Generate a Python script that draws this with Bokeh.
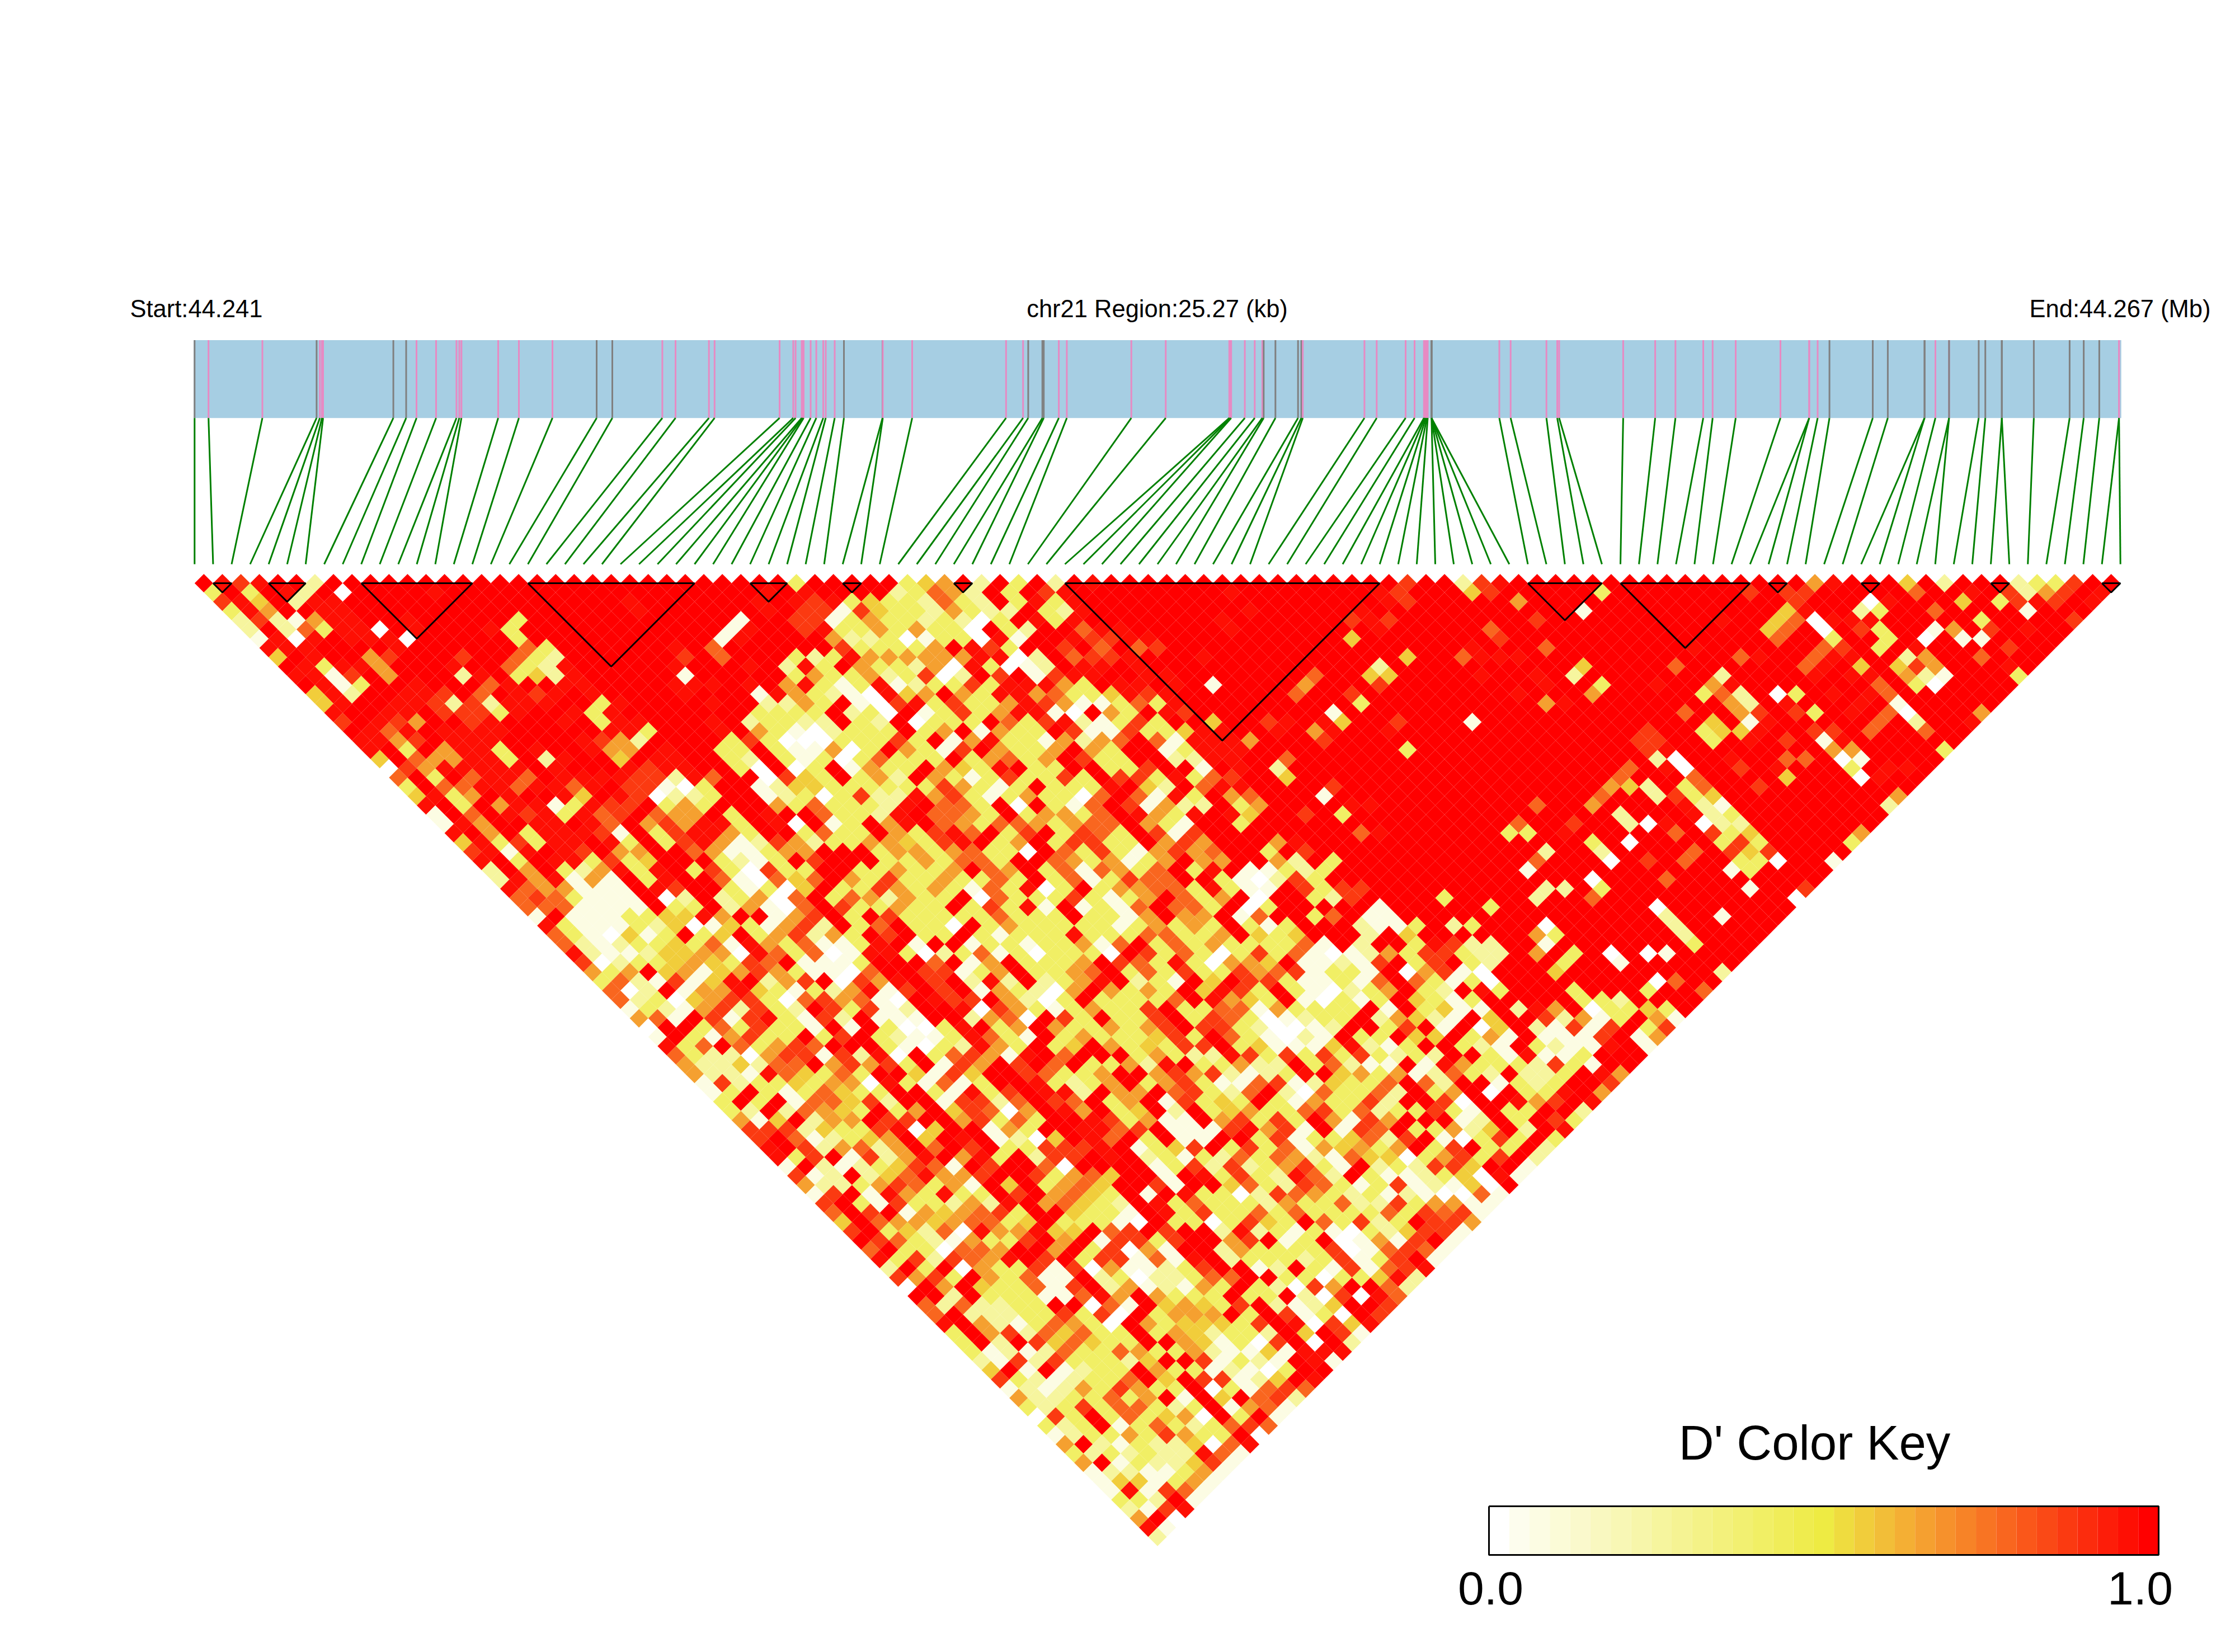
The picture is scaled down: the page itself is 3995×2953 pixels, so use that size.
from bokeh.plotting import figure
from bokeh.models import ColumnDataSource, Range1d, LinearColorMapper
from bokeh.embed import file_html
from bokeh.resources import INLINE
from bokeh.core.properties import value

# Gene-map position (px along the bar) of each SNP
snp_pos = [347.3,372.2,468.5,565.4,571.2,575,577,702.6,725.5,744,779,815.4,820.5,824.3,890,927,987,1066,1094,1183.4,
 1207,1266.7,1276.8,1393,1417.4,1421.6,1432.5,1434.2,1436,1448.5,1458.6,1471,1475.5,1491.5,1508,1577,1577.5,1630,1797.8,1828.2,
 1837.4,1862.7,1865.2,1892.1,1906.4,2021.7,2083.2,2196.8,2198.5,2200.2,2224.6,2242.3,2255.8,2258.3,2279.3,2319.7,2325.6,2328.2,2438.4,2460.3,
 2512,2528,2544.8,2546.5,2548.2,2549.9,2551.5,2558.3,2558.3,2558.3,2558.3,2558.3,2679.5,2699.7,2763.7,2783,2786.4,2900.9,2958.1,2994.3,
 3044,3060.8,3102,3182,3233.4,3233.4,3248.5,3269.6,3347,3373.9,3439.6,3439.6,3459,3483.4,3483.4,3536.4,3548.2,3577.7,3577.7,3634.9,
 3698.9,3724.1,3751.9,3787.2,3787.2]
# 1 = pink marker, 0 = grey marker
snp_pink = "0110111001" "1111111001" "1111111111" "1111001111" "0001111111" "1110000111" "1111111000" "0011111111" "1111111000" "0011000000" "00011"
# LD blocks as (first SNP, last SNP)
blocks = [(1,2),(4,6),(9,15),(18,27),(30,32),(35,36),(41,42),(47,64),(72,76),(77,84),(85,86),(90,91),(97,98),(103,104)]
key_labels = ["0.0", "1.0"]
texts_top = ["Start:44.241", "chr21 Region:25.27 (kb)", "End:44.267 (Mb)"]
# D' class of each pair (0 white ... 9 red), one row per SNP distance; red where a row stops
ld_rows = [
"9878992999 9999999999 9999999999 9939999934 5929392989 9999999999 9999979927 8999999999 9999999589 9949299923 3799",
"3939829099 9989999999 9999999999 8989999236 5293978999 9999989999 9998799947 9999939999 9997977999 9969989725 798",
"7849288999 9999999999 9989999998 9878343326 3293838999 9999999999 9998799999 5999999999 9999979990 8999493787 98",
"3859988999 9999999999 9989999998 9771743325 3229328",
"2721588998 9999939999 9999999199 7713533232 0398389",
"2926388098 9998399999 9999991899 7833535330 93299688",
"1808988809 9999399999 9999918999 9522301330 8199877 88",
"8889999899 9999639999 9989699999 9733335987 3997969 67",
"4989957999 7996329999 9979699932 3855555588 0296778",
"9838859998 9963289999 9899989283 9533250830 1298898",
"8817959992 8934289999 9199999353 3523702979 17889988",
"9813998999 6899889999 8889895831 3812337388 85398898",
"4829988796 9878989999 8999185321 0845953885 6334878",
"4899887272 8889938999 9899225391 0783733587 5113638 9",
"8998897773 8998389999 9993333923 0913735881 0953987",
"7987599789 9989388999 8923322932 9033396378 2137399 4",
"9868988889 9999883999 8953102333 9359153397 1173348 8",
"8857988899 9987529999 3730003337 3915833152 5696188 85",
"8939588398 9985598993 3931150395 3179533595 39913888",
"4965588392 8994988993 2931303633 3935635973 3992288996",
"0758888898 9998788993 0903915339 5438933993 3799198 92",
"6939688698 8887728699 0743935295 3137337397 7383679 94",
"3966886886 8977103991 2443333337 5313933389 4296889 9997",
"4835989984 9870223991 2303722857 3135330696 1839569991",
"8939588138 7793539995 3633328966 3909316971 5229359 99998",
"1969878386 7965593989 9633289665 3935536985 3898499793",
"1859988986 9575883980 9139589653 6653566953 1993 9",
"8959388871 9378853993 6339537869 3793763971 7999999996 8",
"4837388983 9378512752 3355437893 5937733957 5999 58",
"7818987955 9965113559 9935535633 0963731575 6993 97",
"8939883734 9993213979 9933536639 9653513595 5995 293",
"2959325838 9373073399 3353359659 3616536938 9113 23",
"2858151938 9961064695 3733533639 3613766993 1027 3",
"8655111987 9931304933 7535 3 1 6 3 8 0 3 9 3 5 5 6 6 3 8 3 1 1 9 7 3 7 7",
"6763111902 9235069365 2533906333 7313596359 0993279999 3",
"6661111933 9251069733 5339373819 1316966390 399999 1",
"1911133448 5991 5 7 9 3 9 7 3 3 3 3 3 6 3 3 3 9 3 3 1 5 9 5 5 9 1 6 9 9 3 6 9 1 1 9",
"8311132401 4315729369 3309353333 3135353931 3999211392 3",
"6310413934 9357253979 3393133383 3366335943 4999294",
"6212334361 8536113891 9913313351 6936353333 6192993872",
"8211244550 8636018830 2361303330 9736303736 1012537 73",
"7023345437 6911139996 9159333597 6383055491 12179 379 3",
"5359451457 5311069977 1359335693 6373375671 3319057 10",
"3621714892 5790758979 2829235892 3194977311 3169631 3",
"6029155843 1325817979 1532059535 3948739310 2359329 8",
"6230457730 6756109877 9520393333 6985439103 1394313",
"1321572732 9737129980 7531353379 3366153333 9193411928 5953343 9",
"5619717831 7291119925 6097393379 3763012339 2542194 9 97 2513951",
"0993637331 9193003893 5953353579 7732001299 3791904 9 2 1 7 1 7 9 3 5",
"1931573393 7932113863 1935333473 9631021933 9449351911 1791 5",
"8369635769 9931032853 9349534377 9341114821 3993219321 1891",
"6322057717 2809367518 9899925332 3797367345 3398325327 2932979 7 1 7 9 9",
]
ld_rows[50] = "8369635769 9931032853 9349534377 9341114821 3993219321 1891"
ld_rows[49] = "1931573393 7932113863 1935333473 9631021933 9449351911 17915"
ld_rows[51] = "6322057717 2809367518 9699935322 8737373732 3299 31811 3999"
ld_rows_tail = [
"5224266957 5739175979 6933528 9 3 3 5 2 2 9 3 6 2 1 1 9 1 8 5 3 3 3 2 7 3 1 9 9 3 2 9 1 9 9 9 9",
"5221864 3 6 3 9 9 4 1 7 4 9 9 7 6 3 3 5 9 9 5 7 5 7 2 1 2 3 8 9 4 5 3 5 1 2 6 3 2 9 2 2 3 9 8 5 8",
"1723 3 4 3 5 5 0 8 3 1 6 1 3 9 9 8 3 2 3 5 9 3 5 7 3 1 1 6 7 1 2 4 3 3 6 9 6 2 9 9 1 3 2 3 9 9 7",
"1 3 9 3 1 3 6 4 3 3 9 9 3 1 8 3 7 9 8 8 2 9 5 5 9 6 7 3 2 6 9 2 0 6 3 3 6 2 9 3 5 9 0 9 3 3 8 9 5",
"3 9 3 9 1 6 6 4 7 2 9 9 1 7 7 2 6 9 7 6 9 3 5 9 1 7 3 4 3 9 3 1 5 3 3 7 2 9 9 7 0 9 9 8 5 7 9 8",
"3 2 9 2 6 5 4 3 9 3 5 9 4 7 6 0 5 9 8 5 9 3 4 9 2 9 3 4 5 3 3 6 7 3 6 2 3 3 7 3 1 9 3 3 9 9 2",
"5 1 4 9 2 5 5 9 7 7 9 9 5 7 3 6 3 9 9 8 7 3 5 1 1 9 5 7 3 7 3 9 5 1 7 5 9 9 9 1 2 9 3 9 7 3",
"7 7 7 2 4 3 3 7 8 0 4 9 9 1 5 3 9 9 8 8 6 7 9 1 1 1 7 8 5 7 1 9 1 7 6 9 3 3 5 2 4 9 2 9 8",
"7 9 6 1 2 3 4 5 9 4 9 8 9 1 2 0 4 9 8 6 9 3 9 1 1 9 9 3 7 1 3 3 4 6 2 7 9 1 0 3 7 3 9 3",
"8 9 7 2 5 6 2 5 9 6 9 7 9 3 3 7 7 7 8 9 1 3 4 7 9 3 7 3 6 1 5 4 5 3 5 9 3 7 9 3 3 9 2",
"8 3 7 9 1 7 2 5 8 9 5 8 3 9 2 7 7 9 8 9 2 3 1 3 2 6 3 6 5 2 1 6 4 4 0 3 5 7 3 7 9 2",
"1 9 2 1 2 3 4 7 6 1 9 7 9 9 6 0 9 9 9 9 1 3 7 2 7 2 3 5 7 3 1 9 2 3 2 7 7 4 9 9 1",
"7 1 2 9 2 4 6 8 5 5 7 9 9 7 3 5 6 4 9 9 1 9 8 3 7 3 2 8 6 2 9 3 1 1 2 3 4 0 8 1",
"5 2 2 3 5 7 6 3 5 1 9 4 9 3 5 6 4 9 9 7 1 9 9 4 6 3 2 7 6 3 1 3 7 1 2 1 4 0 9 4",
"1 7 9 1 8 5 3 8 3 3 9 7 9 5 6 4 3 9 1 9 8 3 3 0 2 7 6 5 3 2 3 1 2 1 0 0 6 1",
"7 9 3 1 7 3 3 2 5 2 8 9 5 6 4 3 2 9 8 3 6 3 3 3 2 5 3 3 6 2 2 7 3 5 5 1 1 1"[:-2],
"6 9 7 9 1 5 4 5 6 7 3 9 9 4 3 3 1 9 8 3 7 3 3 6 3 6 3 3 3 3 6 3 7 6 7 1",
"4 9 6 5 5 4 5 6 6 3 4 9 3 3 3 1 0 9 3 3 0 3 7 4 3 9 6 3 7 2 3 9 7 7 5",
"7 9 3 4 2 6 0 8 5 5 8 4 4 9 6 7 9 7 9 9 2 8 2 3 1 3 1 0 3 2 4 7 7 1",
"9 7 6 3 2 1 5 3 3 7 9 5 9 1 7 7 3 7 9 9 5 7 9 1 3 9 0 1 5 1 7 9 1",
"6 9 3 3 0 6 6 5 9 9 5 9 3 7 0 5 1 9 9 2 5 3 3 3 3 7 0 1 6 7 6 1",
"8 3 7 2 7 6 5 8 9 7 9 3 7 7 1 6 1 8 9 2 3 3 3 2 3 7 1 3 7 9 1",
"2 9 3 9 0 5 3 3 7 1 7 0 5 1 1 2 3 7 9 9 1 2 9 3 1 7 1 6 7 8",
"7 5 7 3 9 5 3 6 1 1 9 2 3 0 2 2 3 6 6 9 9 3 3 0 3 3 4 8 2 6",
"0 9 5 9 4 3 3 6 1 7 9 2 5 1 2 1 5 3 9 3 2 0 7 5 9 9 6 2",
"9 9 2 9 3 3 3 1 1 6 8 5 9 5 3 3 3 9 3 3 9 2 0 7 0 8 6",
"6 2 6 2 2 3 3 9 9 0 6 1 9 4 5 4 3 7 9 2 1 2 4 9 9 7",
"6 9 2 2 2 3 3 7 3 7 0 9 3 5 5 5 9 3 9 7 1 3 0 9 7",
"8 9 5 2 1 3 6 5 3 0 9 5 3 4 4 4 3 7 9 8 0 7 4 8",
"3 9 5 7 2 6 4 6 3 3 9 3 5 4 2 3 3 2 9 4 9 7 1",
"3 9 2 9 7 4 6 4 3 3 9 9 5 4 1 3 0 7 9 0 9 2",
"3 1 2 1 2 6 3 3 6 5 3 3 5 2 1 1 4 1 8 8 8",
"2 1 7 2 7 3 3 3 2 4 9 9 7 1 3 2 1 9 8 1",
"4 9 1 9 1 2 3 3 9 5 3 3 1 2 1 0 3 9 9",
"7 3 2 1 2 3 3 6 9 4 9 7 7 1 2 4 9 8",
"1 2 1 2 5 3 7 5 3 3 9 0 3 1 6 7 6",
"5 2 2 3 3 6 3 5 9 1 9 4 9 6 7 2",
"3 2 3 7 3 6 6 3 2 3 9 1 5 6 1",
"0 7 3 9 3 6 3 4 5 0 9 3 9 1",
"3 2 3 9 1 3 6 3 2 3 6 7 6",
"1 2 3 3 5 3 7 5 3 3 9 0",
"1 3 5 9 3 6 3 4 5 2 1"[:0] + "5 2 2 3 3 6 3 3 2 6 7"[:0] + "5 9 2 1 3 2 2 4 0 6 8",
"3 2 3 2 3 2 2 8 6 1",
"5 9 1 3 2 2 4 7 1",
"1 2 2 1 1 3 5 1",
"1 4 4 1 3 5 1",
"1 8 1 7 6 1",
"3 3 2 9 1",
"2 1 7 8",
"5 9 0",
"8 1",
"2",
]
# isolated cells in the mostly red right-hand part: (row, position, class)
spots = [(3,55,8),(3,61,8),(4,53,8),(4,60,7),(4,61,8),(4,62,7),(5,53,8),(5,61,8),(6,59,4),(7,65,8),(8,50,8),(8,61,4),(8,64,6),(9,59,2),(10,58,4),(10,59,4),(10,55,6),(10,64,8),
(11,49,1),(11,54,5),(11,58,7),(12,53,6),(12,56,7),(13,56,3),(14,54,1),(15,50,7),(15,51,8),(15,53,8),(15,54,4),(15,57,7),(15,61,1),(16,50,8),(16,52,5),(16,53,8),(16,56,8),(17,48,5),(17,52,7),(18,56,3),(19,49,6),(20,48,2),(21,48,4),(22,50,7),(23,49,1),(24,50,8),(25,49,3),(25,47,7),(34,50,3),
(3,73,1),(4,70,7),(5,67,6),(6,67,7),(7,69,6),(9,70,4),(10,69,2),(11,70,3),(12,69,5),(13,66,5),(13,67,8),(8,67,8),(8,66,8),(8,65,8),(10,67,8),(11,67,8),(12,65,8),(7,77,8),(8,79,6),(8,80,8),(4,80,8),
(9,75,6),(11,73,8),(14,73,6),(10,77,2),(11,76,5),(11,77,8),(12,75,3),(12,76,6),(12,77,2),(13,76,5),(13,77,2),(14,76,5),(14,77,7),(15,76,1),(16,75,4),(15,77,8),(16,76,8),(15,74,4),(16,73,3),(16,74,4),(17,73,3),(17,75,8),(17,77,7),(19,73,8),(20,73,7),
(19,76,6),(19,77,6),(20,75,8),(21,75,4),(22,73,7),(12,79,0),(12,80,3),(13,79,8),(14,79,7),(14,80,3),(16,79,7),(17,79,1),(16,80,7),(17,80,8),(18,79,5),(18,80,5),(19,79,0),(19,80,1),(20,79,3),(21,79,0),(21,80,8),(20,81,8),(20,82,8),
(4,85,0),(5,85,0),(6,85,3),(7,85,7),(8,85,8),(5,82,4),(4,83,4),(3,84,4),(6,82,6),(5,83,6),(4,84,6),(3,85,8),(8,83,6),(7,84,6),(9,82,6),(10,82,8),(9,83,8),(8,84,8),(12,82,8),(10,84,8),(9,85,4),(10,85,8),(11,85,6),(12,85,6),(14,82,8),(13,83,8),(12,84,8),
(16,82,6),(15,83,6),(14,84,6),(13,85,1),(14,85,0),(15,85,2),(16,85,6),(6,88,3),(5,88,3),(7,87,3),(4,86,8),(5,87,7),(4,87,8),(4,88,8),(2,89,0),(3,88,2),(3,89,3),(3,92,6),(5,91,1),(6,90,0),(7,89,8),(8,88,2),(8,89,5),(9,87,4),(9,88,7),(9,89,5),(10,87,5),(10,88,2),(10,89,1),(11,87,3),(11,88,0),
(5,92,5),(6,92,1),(4,94,3),(6,93,1),(5,94,7),(3,97,1),(5,96,8),(7,94,7),(8,92,6),(4,99,7),(10,93,3),(9,93,8),(18,85,3),(14,89,5),(15,88,8),(23,80,5),(24,79,2),(27,76,5),(28,75,3),(30,73,1),(34,69,0),(33,70,7),(42,61,2),(44,59,6),(47,56,1),(48,55,7),
(19,70,0),(20,70,0),(18,70,8),(19,69,2),(17,69,7),(17,70,7),(16,70,7),(18,69,7),(20,69,8),(21,70,6),(22,69,3),(22,70,6),(23,68,7),(23,69,3),(23,70,4),(24,68,8),(24,69,2),(24,70,1),(25,68,8),(25,69,2),(25,70,3),(26,68,0),(26,69,2),(26,70,2),(27,68,7),(27,69,3),(27,70,4),(28,68,3),(28,69,7),(28,70,3),(29,68,7),(29,69,4),(29,70,7),(30,68,3),(30,69,3),(30,70,0),(31,67,1),(31,68,3),
(22,67,2),(23,67,2),(22,66,4),(22,65,5),(20,67,6),(21,66,6),(23,64,6),(24,63,5),(25,64,2),(26,64,2),(26,65,0),(26,66,8),(27,66,6),(28,63,0),(26,61,7),(27,60,8),(28,61,3),(29,61,2),(30,61,0),(29,58,2),(30,57,6),(31,56,1),(27,57,3),(26,58,6),(27,58,3),(24,60,6),
(29,66,6),(30,65,6),(30,63,7),(32,63,6),(33,56,2),(33,57,2),(34,55,2),(35,52,3),(32,59,0),(33,59,3),(34,58,6),(33,67,1),(36,64,1),(35,61,0),(36,61,2),(37,61,2),(38,61,2),(39,61,3),
(37,54,0),(38,53,5),(38,54,3),(39,53,1),(40,52,5),(40,54,3),(41,53,3),(42,52,4),(40,49,2),(40,50,2),(39,50,2),(41,49,2),(43,48,0),(44,48,3),(40,56,0),(41,56,1),(40,58,0),(40,59,1),(43,57,0),(44,56,3),(46,52,0),(44,52,3),(46,53,3),(45,54,2),(45,52,3),(45,53,3),(43,58,6)]
D_CLASS = [0.0, 0.09, 0.25, 0.40, 0.55, 0.64, 0.76, 0.85, 0.94, 1.0]
SNP_COUNT = len(snp_pos)
all_rows = [r.replace(" ", "") for r in ld_rows[:52] + ld_rows_tail]

# layout in page pixels
W, H = 3979, 2937
X0, DX, Y_D = 347.3, 33.1, 1042.0
BAR_T, BAR_B, TICK_B = 607.5, 746.7, 1008.0

def ramp(a, b, n):
    return [tuple(a[i] + (b[i]-a[i]) * t / n for i in range(3)) for t in range(n)]
cols = ramp((255,255,255),(255,255,238),1) + ramp((253,253,238),(238,235,67),15) + ramp((238,235,67),(245,160,48),5) + ramp((245,160,48),(255,0,0),11) + [(255,0,0)]
palette = ["#%02x%02x%02x" % tuple(int(round(v)) for v in c) for c in cols]
mapper = LinearColorMapper(palette=palette, low=0, high=1)

p = figure(width=W, height=H, x_range=Range1d(0, W), y_range=Range1d(H, 0),
           output_backend="svg", toolbar_location=None, min_border=0, outline_line_color=None)
p.xaxis.visible = False
p.yaxis.visible = False
p.grid.visible = False

cells = {}
for r in range(SNP_COUNT - 1):
    need = SNP_COUNT - 1 - r
    s = all_rows[r] if r < len(all_rows) else ""
    s = (s + "9" * need)[:need]
    cells[r] = [int(c) for c in s]
for r, k, d in spots:
    if r < len(cells) and k < len(cells[r]):
        cells[r][k] = d

xs, ys, vals = [], [], []
h = DX / 2
for r, row in cells.items():
    for k, d in enumerate(row):
        cx = X0 + DX * (k + (r + 1) / 2)
        cy = Y_D + h * r
        xs.append([cx - h, cx, cx + h, cx])
        ys.append([cy, cy - h, cy, cy + h])
        vals.append(D_CLASS[d])
p.patches("xs", "ys", source=ColumnDataSource(dict(xs=xs, ys=ys, v=vals)),
          fill_color={"field": "v", "transform": mapper}, line_color=None)

for a, b in blocks:
    xa, xb = X0 + DX * a, X0 + DX * b
    p.line([xa, xb, (xa + xb) / 2, xa], [Y_D, Y_D, Y_D + (xb - xa) / 2, Y_D], line_color="black", line_width=3)

p.quad(left=[X0 - 1.5], right=[X0 + DX * (SNP_COUNT - 1) + 1.5], top=[BAR_T], bottom=[BAR_B], fill_color="#a6cee3", line_color=None)
for i, x in enumerate(snp_pos):
    c = "#e78ac3" if snp_pink[i] == "1" else "#808080"
    p.segment([x], [BAR_T], [x], [BAR_B], line_color=c, line_width=3)
    p.segment([x], [BAR_B], [X0 + DX * i], [TICK_B], line_color="#008000", line_width=3)

font = value("Liberation Sans")
p.text([232], [551], text=[texts_top[0]], text_font=font, text_font_size="43.5px", text_align="left", text_baseline="middle", text_color="black")
p.text([2068], [551], text=[texts_top[1]], text_font=font, text_font_size="43.5px", text_align="center", text_baseline="middle", text_color="black")
p.text([3951], [551], text=[texts_top[2]], text_font=font, text_font_size="43.5px", text_align="right", text_baseline="middle", text_color="black")

KL, KR, KT, KB = 2661, 3858, 2692, 2779
n = len(palette)
w = (KR - KL) / n
p.quad(left=[KL + w * i for i in range(n)], right=[KL + w * (i + 1) for i in range(n)], top=[KT] * n, bottom=[KB] * n,
       fill_color=palette, line_color=None)
p.line([KL, KR, KR, KL, KL], [KT, KT, KB, KB, KT], line_color="black", line_width=3)
p.text([3243], [2578], text=["D' Color Key"], text_font=font, text_font_size="87px", text_align="center", text_baseline="middle", text_color="black")
p.text([2664], [2838], text=[key_labels[0]], text_font=font, text_font_size="84px", text_align="center", text_baseline="middle", text_color="black")
p.text([3825], [2838], text=[key_labels[1]], text_font=font, text_font_size="84px", text_align="center", text_baseline="middle", text_color="black")

open("out.html", "w").write(file_html(p, INLINE))
